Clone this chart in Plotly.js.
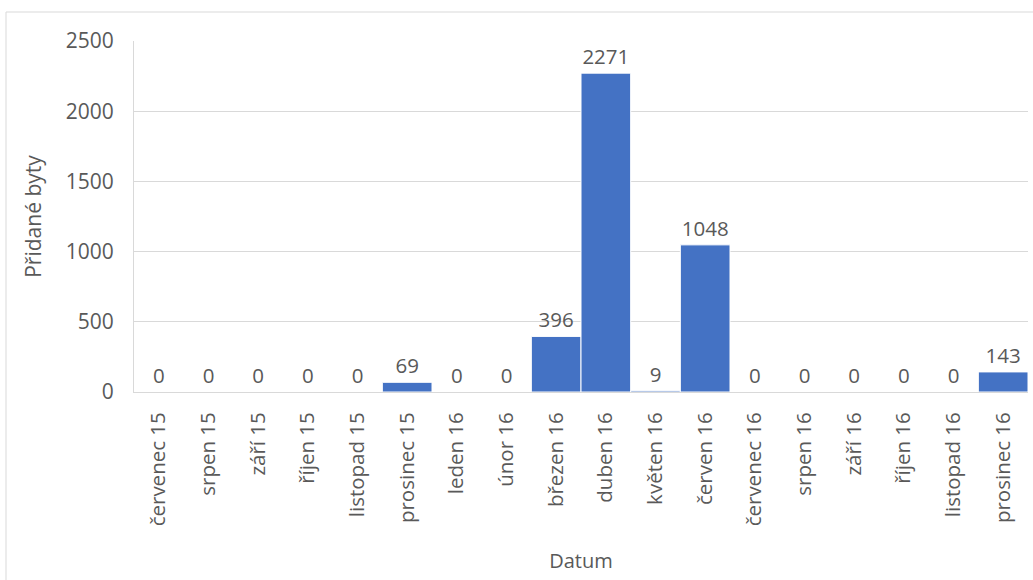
<!DOCTYPE html>
<html>
<head>
<meta charset="utf-8">
<script src="https://cdn.plot.ly/plotly-3.0.1.min.js"></script>
<style>html,body{margin:0;padding:0;background:#fff;}#chart{width:1033px;height:580px;}</style>
</head>
<body>
<div id="chart"></div>
<script>
const categories = ["červenec 15","srpen 15","září 15","říjen 15","listopad 15","prosinec 15","leden 16","únor 16","březen 16","duben 16","květen 16","červen 16","červenec 16","srpen 16","září 16","říjen 16","listopad 16","prosinec 16"];
const values = [0,0,0,0,0,69,0,0,396,2271,9,1048,0,0,0,0,0,143];
const yTicks = [0,500,1000,1500,2000,2500];

const FONT = "'Open Sans', 'Noto Sans', sans-serif";
const GREY = "#595959";

const trace = {
  type: "bar",
  x: categories,
  y: values,
  text: values.map(String),
  textposition: "outside",
  cliponaxis: false,
  textfont: {family: FONT, size: 20.5, color: GREY},
  marker: {color: "#4472C4", line: {color: "#ffffff", width: 1}},
  hoverinfo: "x+y"
};

const L = 134, R = 5, T = 41, B = 188;
const pw = 1033 - L - R, ph = 580 - T - B;

const layout = {
  width: 1033, height: 580,
  margin: {l: L, r: R, t: T, b: B, pad: 0},
  paper_bgcolor: "#ffffff",
  plot_bgcolor: "#ffffff",
  bargap: 0,
  showlegend: false,
  font: {family: FONT, color: GREY},
  xaxis: {
    type: "category",
    tickangle: -90,
    tickfont: {family: FONT, size: 20.5, color: GREY},
    ticks: "",
    showline: true,
    linecolor: "#d9d9d9",
    linewidth: 1,
    ticklabelstandoff: 11,
    title: {text: "Datum", font: {family: FONT, size: 20, color: GREY}, standoff: 28},
    fixedrange: true
  },
  yaxis: {
    range: [0, 2500],
    tickvals: yTicks,
    ticktext: yTicks.map(String),
    tickfont: {family: FONT, size: 21, color: GREY},
    ticks: "",
    showgrid: true,
    gridcolor: "#d9d9d9",
    gridwidth: 1,
    zeroline: false,
    showline: true,
    linecolor: "#d9d9d9",
    linewidth: 1,
    ticklabelstandoff: 15,
    title: {text: "Přidané byty", font: {family: FONT, size: 21, color: GREY}, standoff: 18},
    fixedrange: true
  },
  shapes: [{
    type: "rect", xref: "paper", yref: "paper",
    x0: (6 - L) / pw, x1: (1040 - L) / pw,
    y0: -(590 - T - ph) / ph, y1: 1 + (T - 12) / ph,
    line: {color: "#d9d9d9", width: 1}, fillcolor: "rgba(0,0,0,0)", layer: "below"
  }]
};

Plotly.newPlot("chart", [trace], layout, {displayModeBar: false, staticPlot: true});
</script>
</body>
</html>
